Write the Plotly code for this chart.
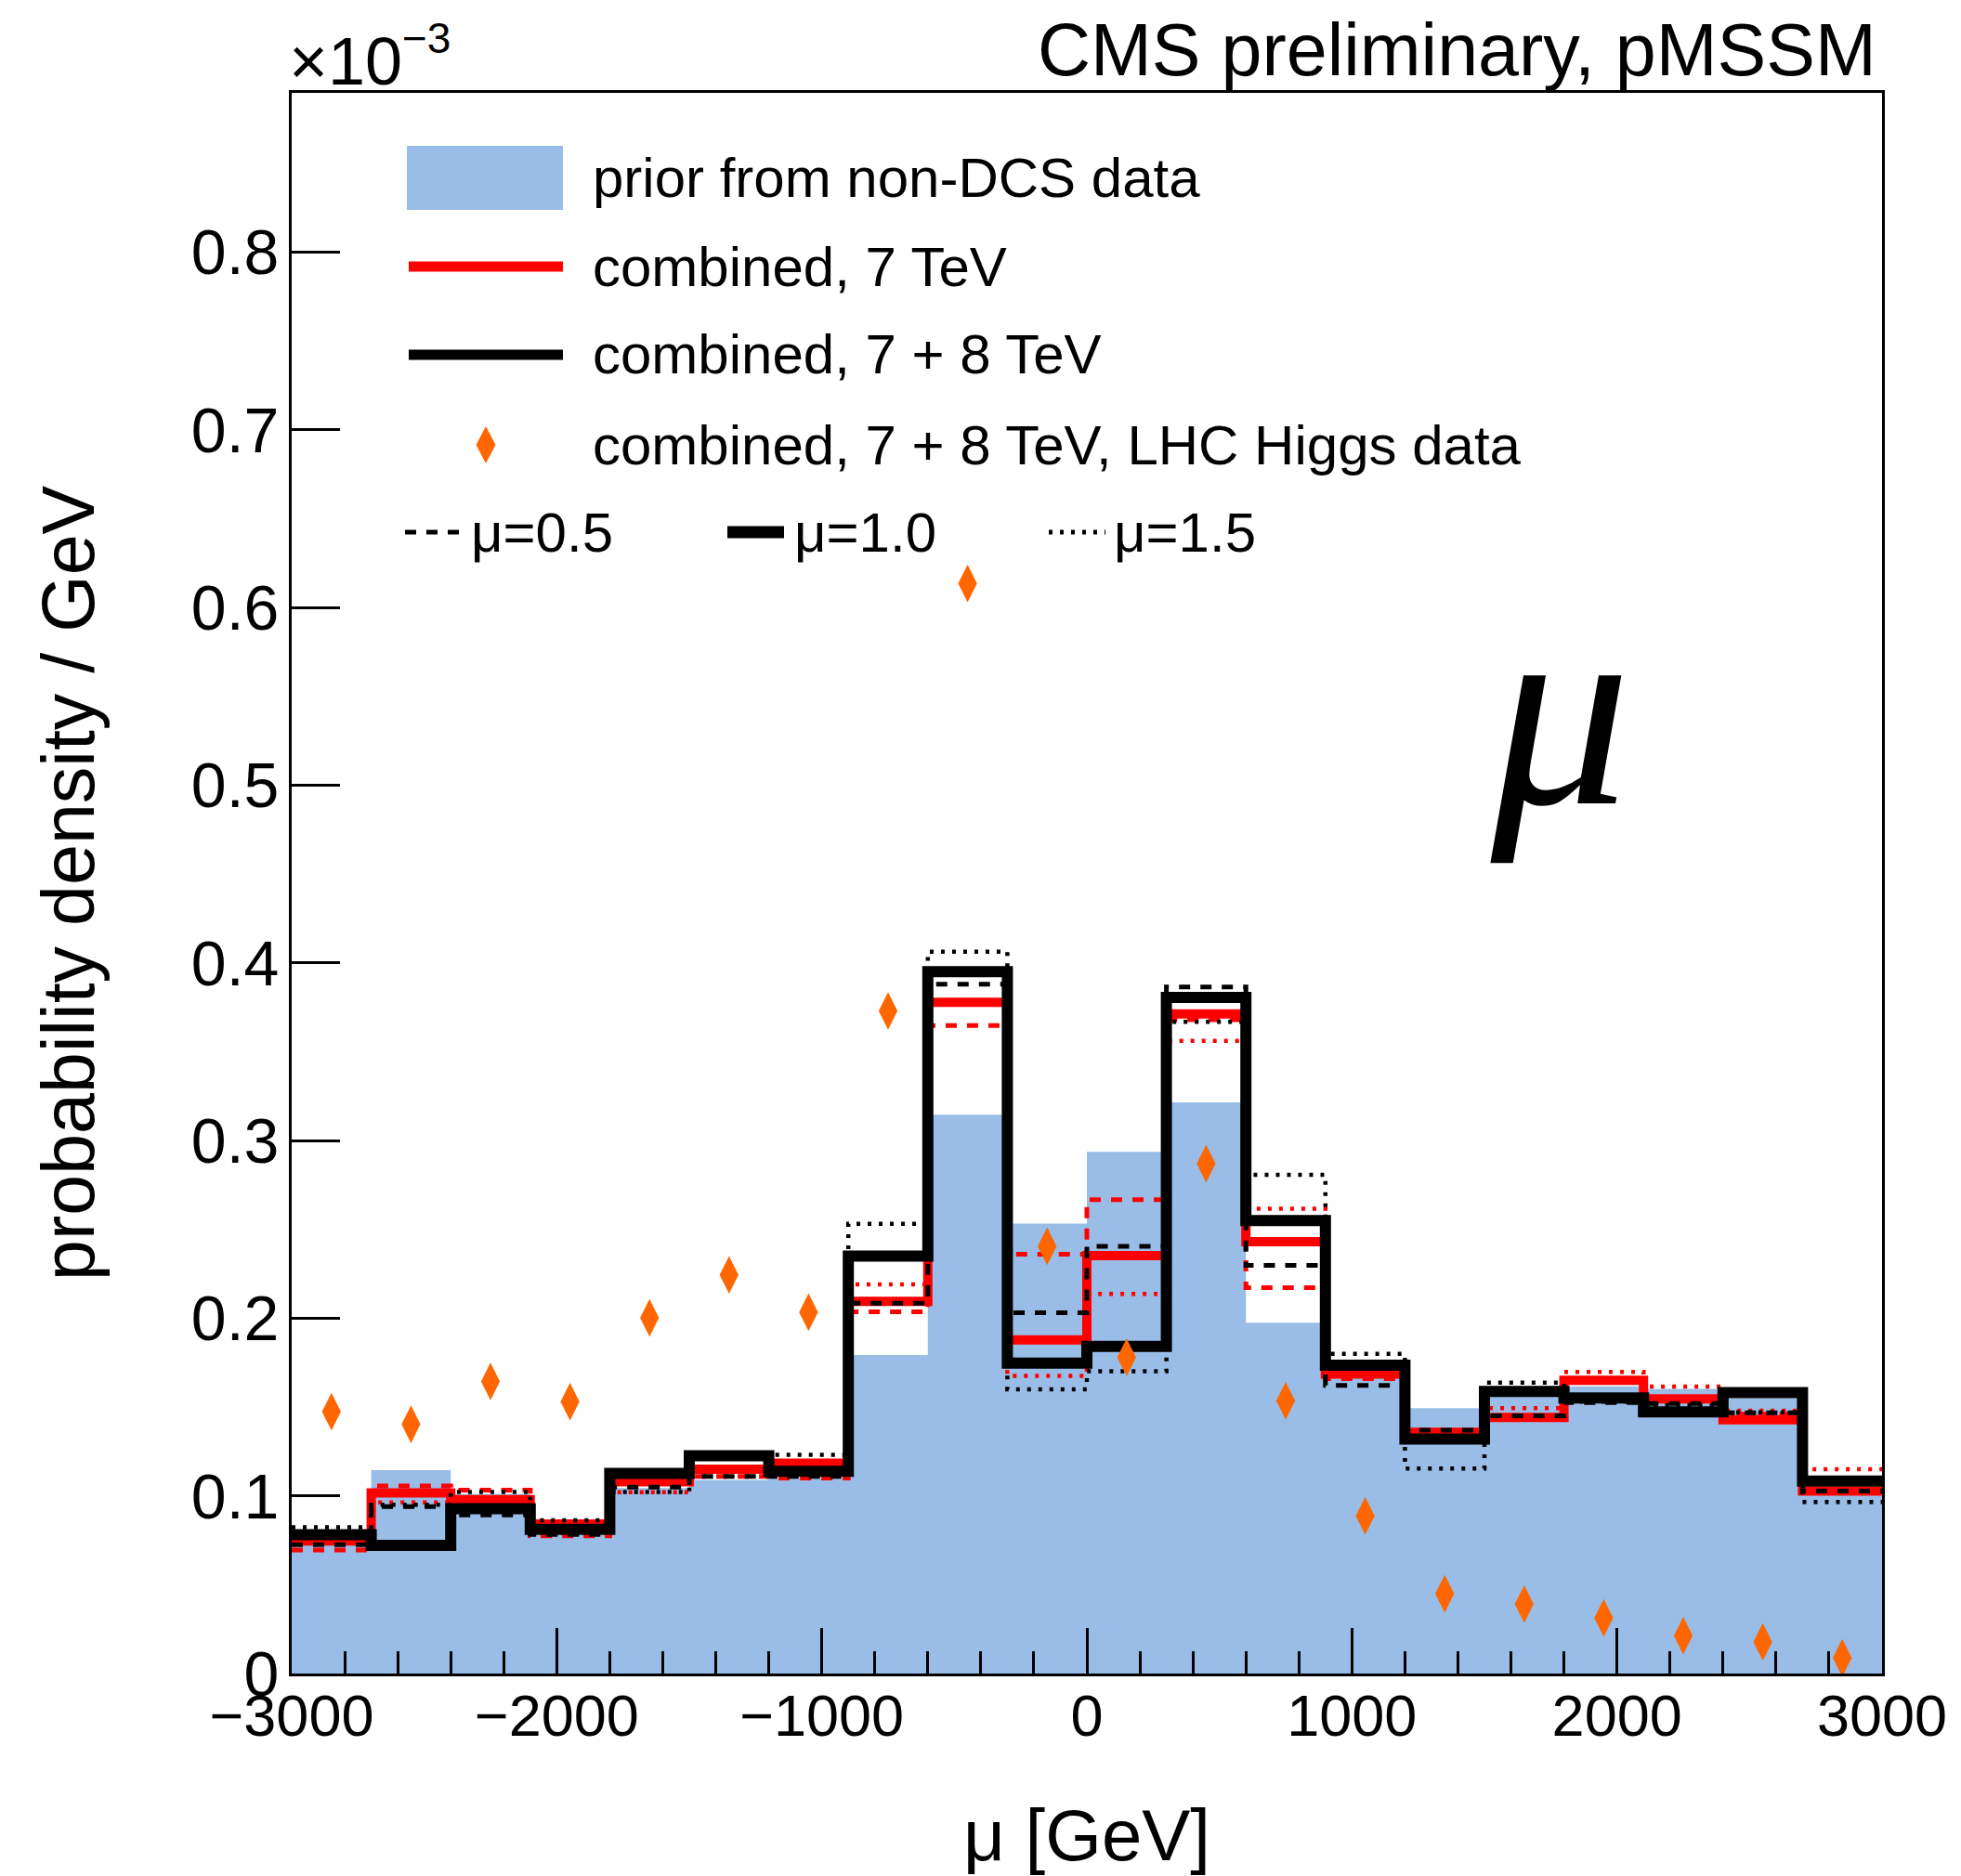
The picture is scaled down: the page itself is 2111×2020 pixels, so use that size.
import plotly.graph_objects as go

# ---------------- data (probability density / GeV, in units of 1e-3) ----------------
bin_edges = list(range(-3000, 3001, 300))
bin_centers = [e + 150 for e in bin_edges[:-1]]

prior = [0.0725, 0.1145, 0.101, 0.078, 0.1044, 0.109, 0.110, 0.1793, 0.3145, 0.2533,
         0.2936, 0.3215, 0.1974, 0.168, 0.1494, 0.157, 0.1617, 0.1602, 0.155, 0.101]

comb7_mu05 = [0.0695, 0.1056, 0.1033, 0.0775, 0.107, 0.111, 0.110, 0.2036, 0.3647, 0.236,
              0.2667, 0.368, 0.2172, 0.166, 0.135, 0.143, 0.164, 0.155, 0.146, 0.102]
comb7_mu10 = [0.0746, 0.1017, 0.0979, 0.0842, 0.1079, 0.115, 0.1184, 0.2095, 0.3778, 0.1878,
              0.2352, 0.3713, 0.2431, 0.1686, 0.1358, 0.1442, 0.165, 0.1546, 0.1428, 0.1027]
comb7_mu15 = [0.076, 0.0963, 0.0975, 0.083, 0.102, 0.116, 0.118, 0.219, 0.378, 0.1676,
              0.2137, 0.3561, 0.2616, 0.170, 0.136, 0.1494, 0.1698, 0.1615, 0.148, 0.115]

comb78_mu05 = [0.0725, 0.0939, 0.0893, 0.0783, 0.105, 0.111, 0.111, 0.2085, 0.388, 0.2031,
               0.2405, 0.3865, 0.2298, 0.1622, 0.137, 0.145, 0.1525, 0.152, 0.1468, 0.1027]
comb78_mu10 = [0.0781, 0.0722, 0.0928, 0.0811, 0.1127, 0.1226, 0.1138, 0.235, 0.395, 0.1747,
               0.1841, 0.3806, 0.255, 0.1736, 0.132, 0.1588, 0.1551, 0.1473, 0.1581, 0.1083]
comb78_mu15 = [0.0823, 0.095, 0.1022, 0.0862, 0.1022, 0.121, 0.1231, 0.2531, 0.4063, 0.160,
               0.1702, 0.3668, 0.2807, 0.1799, 0.1154, 0.1637, 0.153, 0.151, 0.147, 0.0966]

lhc_higgs = [0.1474, 0.1403, 0.1644, 0.153, 0.2002, 0.2244, 0.2034, 0.373, 0.6136, 0.2405,
             0.178, 0.287, 0.1535, 0.0888, 0.0449, 0.0391, 0.0313, 0.0213, 0.0178, 0.0088]

x_tick_values = [-3000, -2000, -1000, 0, 1000, 2000, 3000]
y_tick_values = [0, 0.1, 0.2, 0.3, 0.4, 0.5, 0.6, 0.7, 0.8]

# ---------------- styling ----------------
W, H = 2111, 2020
L, R, T, B = 314, 2026, 100, 1802
BLUE = "rgb(153,189,230)"
RED = "rgb(255,0,0)"
ORANGE = "rgb(255,102,0)"
FONT = "Liberation Sans, Arial, Helvetica, sans-serif"
DASH = "12px,11px"
DOT = "4px,8px"


def px(x):
    return (x - L) / (R - L)


def py(y):
    return (B - y) / (B - T)


def step(vals):
    return list(vals) + [vals[-1]]


fig = go.Figure()

fig.add_trace(go.Scatter(x=bin_edges, y=step(prior), mode="lines",
                         line=dict(shape="hv", width=0, color=BLUE),
                         fill="tozeroy", fillcolor=BLUE, hoverinfo="skip", showlegend=False))

series = [
    (comb7_mu05, RED, 5, DASH),
    (comb7_mu10, RED, 10, "solid"),
    (comb7_mu15, RED, 4.5, DOT),
    (comb78_mu05, "black", 5, DASH),
    (comb78_mu15, "black", 4.5, DOT),
    (comb78_mu10, "black", 12, "solid"),
]
for vals, col, w, dash in series:
    fig.add_trace(go.Scatter(x=bin_edges, y=step(vals), mode="lines",
                             line=dict(shape="hv", width=w, color=col, dash=dash),
                             hoverinfo="skip", showlegend=False))

fig.add_trace(go.Scatter(x=bin_centers, y=lhc_higgs, mode="markers",
                         marker=dict(symbol="diamond-tall", size=29, color=ORANGE,
                                     line=dict(width=0)),
                         hoverinfo="skip", showlegend=False))

# ---------------- legend (drawn manually) ----------------
shapes = []
shapes.append(dict(type="rect", xref="paper", yref="paper",
                   x0=px(438), x1=px(606), y0=py(226), y1=py(157),
                   fillcolor=BLUE, line=dict(width=0), layer="above"))
shapes.append(dict(type="line", xref="paper", yref="paper",
                   x0=px(440), x1=px(606), y0=py(287), y1=py(287),
                   line=dict(color=RED, width=11)))
shapes.append(dict(type="line", xref="paper", yref="paper",
                   x0=px(440), x1=px(606), y0=py(382), y1=py(382),
                   line=dict(color="black", width=11)))
dcx, dcy, dhw, dhh = 523, 479, 10.5, 20
shapes.append(dict(type="path", xref="paper", yref="paper",
                   path=(f"M {px(dcx)},{py(dcy - dhh)} L {px(dcx + dhw)},{py(dcy)} "
                         f"L {px(dcx)},{py(dcy + dhh)} L {px(dcx - dhw)},{py(dcy)} Z"),
                   fillcolor=ORANGE, line=dict(width=0)))
shapes.append(dict(type="line", xref="paper", yref="paper",
                   x0=px(436), x1=px(498), y0=py(573), y1=py(573),
                   line=dict(color="black", width=5, dash=DASH)))
shapes.append(dict(type="line", xref="paper", yref="paper",
                   x0=px(783), x1=px(844), y0=py(573), y1=py(573),
                   line=dict(color="black", width=13)))
shapes.append(dict(type="line", xref="paper", yref="paper",
                   x0=px(1129), x1=px(1190), y0=py(573), y1=py(573),
                   line=dict(color="black", width=5, dash=DOT)))

annotations = []


def add_text(text, x, y, size, xanchor="left", family=FONT, angle=0):
    annotations.append(dict(text=text, xref="paper", yref="paper", x=px(x), y=py(y),
                            xanchor=xanchor, yanchor="middle", showarrow=False,
                            textangle=angle, font=dict(family=family, size=size, color="black")))


leg_size = 60
add_text("prior from non-DCS data", 636, 191.5, leg_size)
add_text("combined, 7 TeV", 636, 287, leg_size)
add_text("combined, 7 + 8 TeV", 636, 382, leg_size)
add_text("combined, 7 + 8 TeV, LHC Higgs data", 636, 479, leg_size)
add_text("μ=0.5", 505, 573, leg_size)
add_text("μ=1.0", 853, 573, leg_size)
add_text("μ=1.5", 1197, 573, leg_size)

add_text("CMS preliminary, pMSSM", 2022, 53, 79, xanchor="right")
add_text("×10", 309, 66, 72)
add_text("−3", 431, 41, 46)
add_text("<i>μ</i>", 1677, 764, 300, xanchor="center", family="Liberation Serif, Times New Roman, serif")
add_text("probability density / GeV", 73, 951, 79, xanchor="center", angle=-90)
add_text("μ [GeV]", 1170, 1976, 78, xanchor="center")

fig.update_layout(
    width=W, height=H, autosize=False,
    margin=dict(l=L, r=W - R, t=T, b=H - B, pad=0),
    paper_bgcolor="white", plot_bgcolor="white",
    showlegend=False,
    shapes=shapes, annotations=annotations,
    font=dict(family=FONT, color="black"),
    xaxis=dict(range=[-3000, 3000], tickvals=x_tick_values, showgrid=False, zeroline=False,
               showline=True, linecolor="black", linewidth=3, mirror=True,
               ticks="inside", ticklen=49, tickwidth=2.5, tickcolor="black",
               tickfont=dict(family=FONT, size=63, color="black"),
               ticklabelstandoff=-12, layer="above traces",
               minor=dict(ticks="inside", ticklen=24, tickwidth=2.5, tickcolor="black",
                          dtick=200, showgrid=False)),
    yaxis=dict(range=[0, (B - T) / 1913], tickvals=y_tick_values, showgrid=False, zeroline=False,
               showline=True, linecolor="black", linewidth=3, mirror=True,
               ticks="inside", ticklen=52, tickwidth=2.5, tickcolor="black",
               tickfont=dict(family=FONT, size=68, color="black"),
               ticklabelstandoff=-3, layer="above traces"),
)

fig.write_html("out.html")
